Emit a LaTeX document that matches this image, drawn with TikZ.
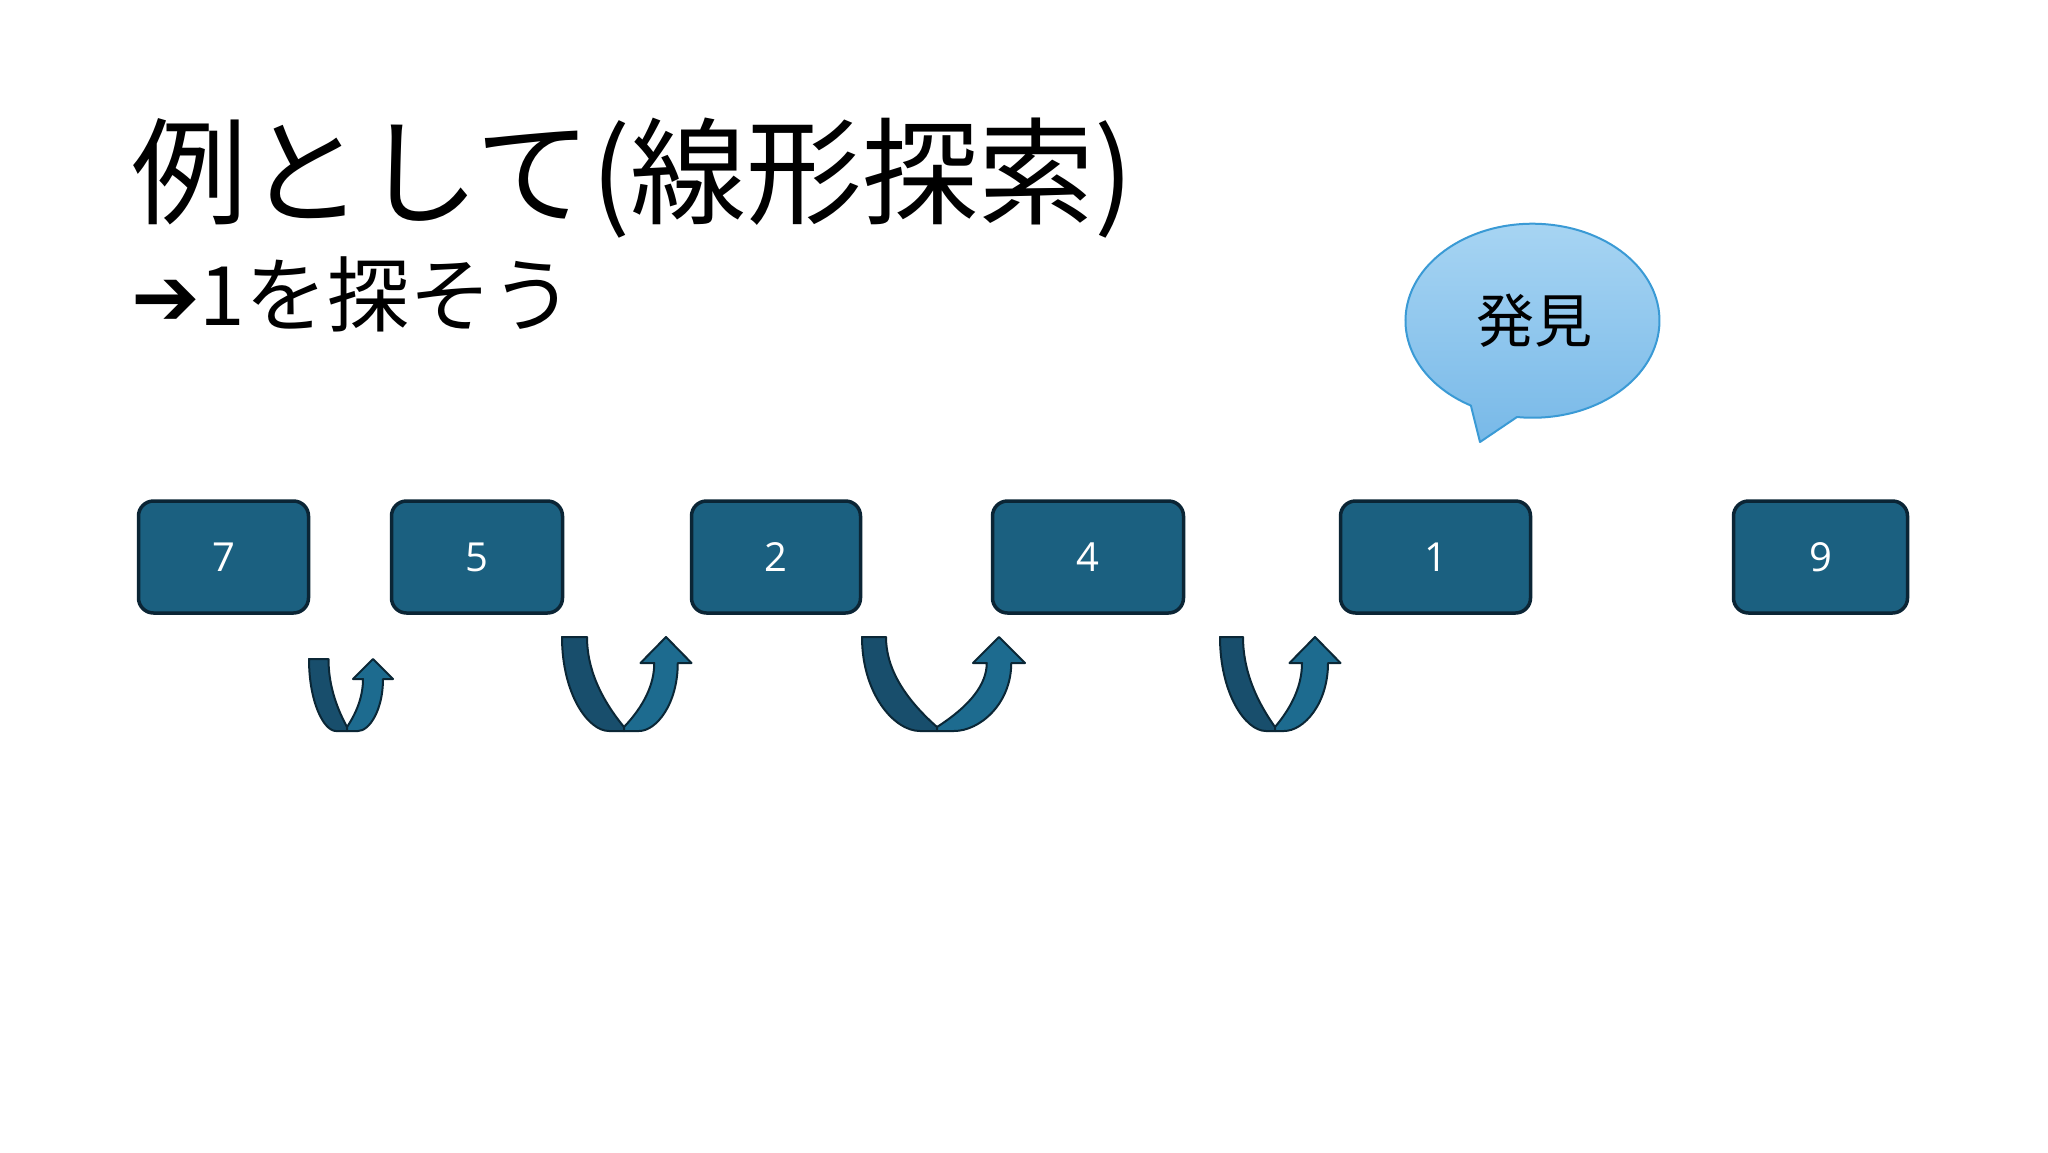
\documentclass[tikz,border=0pt]{standalone}
\usepackage{fontspec}
\newfontfamily\jpfont{Noto Sans CJK JP}
\newfontfamily\symfont{DejaVu Sans}
\newfontfamily\numfont{Open Sans}
\definecolor{boxfill}{HTML}{1B6080}
\definecolor{boxline}{HTML}{0B2535}
\definecolor{bandL}{HTML}{184E6C}
\definecolor{bandR}{HTML}{1D6B8F}
\definecolor{bandline}{HTML}{0B2736}
\definecolor{bubline}{HTML}{3A9AD5}
\definecolor{bubtop}{HTML}{A8D5F3}
\definecolor{bubbot}{HTML}{78B9E8}
% U-turn arrow: L, tail width, V (bottom centre), tip x, top y, head base y, head half width, shaft width, bottom flat width
\newcommand\uturn[9]{%
 \pgfmathsetmacro\aL{#1}%
 \pgfmathsetmacro\aLi{#1+#2}%
 \pgfmathsetmacro\aBL{#3-#9/2}%
 \pgfmathsetmacro\aBR{#3+#9/2}%
 \pgfmathsetmacro\aSL{#4-#8/2}%
 \pgfmathsetmacro\aSR{#4+#8/2}%
 \pgfmathsetmacro\aHL{#4-#7}%
 \pgfmathsetmacro\aHR{#4+#7}%
 \pgfmathsetmacro\aCa{#5+0.6*(731-#5)}%
 \pgfmathsetmacro\aCb{\aBL-0.45*(\aBL-#1)}%
 \pgfmathsetmacro\aCc{#5+(727-#5)/3}%
 \pgfmathsetmacro\aCd{#3-2*(#3-\aLi)/3}%
 \pgfmathsetmacro\aCe{727-(727-#5)/3}%
 \pgfmathsetmacro\aCf{#3+2*(\aSL-#3)/3}%
 \pgfmathsetmacro\aCg{727-(727-#6)/3}%
 \pgfmathsetmacro\aCh{#6+(727-#6)/3}%
 \pgfmathsetmacro\aCi{#6+0.6*(731-#6)}%
 \pgfmathsetmacro\aCj{\aBR+0.45*(\aSR-\aBR)}%
 \path[leftband] (\aL,#5) -- (\aLi,#5) .. controls (\aLi,\aCc) and (\aCd,\aCe) .. (#3,727) -- (#3,731) -- (\aBL,731) .. controls (\aCb,731) and (\aL,\aCa) .. (\aL,#5) -- cycle;
 \path[rightband] (#3,727) .. controls (\aCf,\aCg) and (\aSL,\aCh) .. (\aSL,#6) -- (\aHL,#6) -- (#4,#5) -- (\aHR,#6) -- (\aSR,#6) .. controls (\aSR,\aCi) and (\aCj,731) .. (\aBR,731) -- (#3,731) -- cycle;
}
\begin{document}
\begin{tikzpicture}[x=1pt,y=-1pt,
  numbox/.style={draw=boxline, fill=boxfill, line width=3.5pt, rounded corners=15pt,
    minimum height=112pt, inner sep=0pt, text=white,
    font=\numfont\fontsize{40}{48}\selectfont},
  leftband/.style={fill=bandL, draw=bandline, line width=2pt, line join=round},
  rightband/.style={fill=bandR, draw=bandline, line width=2pt, line join=round},
  bubble/.style={draw=bubline, line width=2pt, top color=bubtop, bottom color=bubbot, line join=round},
  titletext/.style={anchor=west, inner sep=0pt}]
\useasboundingbox (0,0) rectangle (2048,1152);
\fill[white] (0,0) rectangle (2048,1152);

% title
\node[titletext, text height=102pt, text depth=14pt, font=\jpfont\fontsize{116}{130}\selectfont] (title) at (131,171) {例として(線形探索)};
\node[titletext, text height=72pt, text depth=10pt, font=\jpfont\fontsize{82}{96}\selectfont] (sub) at (131,294) {{\symfont ➔}1を探そう};

% speech bubble
\path[bubble] (1480,442) -- (1517,417) arc[start angle=97, end angle=-241, x radius=127, y radius=97] -- cycle;
\node[font=\jpfont\fontsize{58}{64}\selectfont, inner sep=0pt] (found) at (1534,321) {発見};

% number boxes
\node[numbox, minimum width=170pt] (n7) at (223.5,557) {7};
\node[numbox, minimum width=171pt] (n5) at (477,557) {5};
\node[numbox, minimum width=169pt] (n2) at (776,557) {2};
\node[numbox, minimum width=191pt] (n4) at (1088,557) {4};
\node[numbox, minimum width=190pt] (n1) at (1435.5,557) {1};
\node[numbox, minimum width=174pt] (n9) at (1820.5,557) {9};

% u-turn arrows
\uturn{309}{19.5}{347}{373}{659}{679}{20}{20}{22}
\uturn{562}{25}{624}{666}{637}{663}{25.5}{23.5}{30}
\uturn{862}{24}{937}{999}{637}{663}{26}{24.5}{34}
\uturn{1220}{23}{1275}{1315}{637}{663}{25.5}{26}{18}
\end{tikzpicture}
\end{document}
